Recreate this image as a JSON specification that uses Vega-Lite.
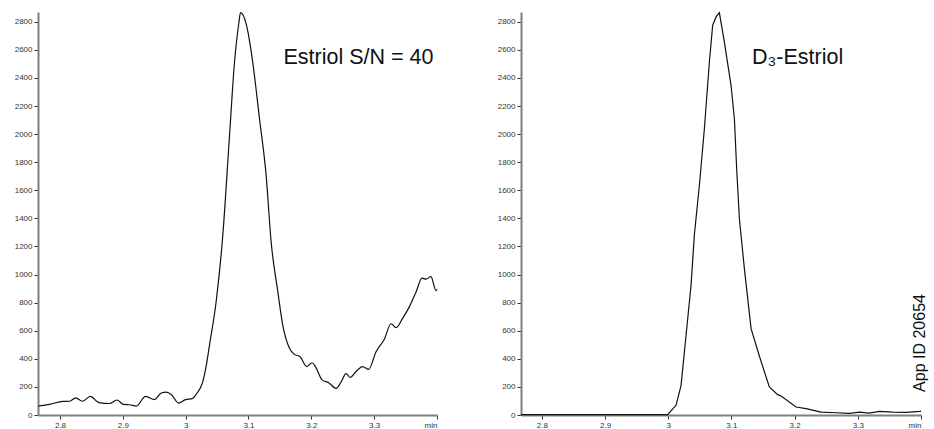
{
  "$schema": "https://vega.github.io/schema/vega-lite/v6.json",
  "background": "white",
  "padding": {"left": 14, "top": 10, "right": 0, "bottom": 0},
  "bounds": "flush",
  "spacing": 84,
  "config": {
    "view": {"stroke": null},
    "font": "Liberation Sans",
    "axis": {
      "grid": false,
      "title": null,
      "domainColor": "#808080",
      "domainWidth": 2,
      "tickColor": "#333333",
      "tickSize": 4,
      "tickWidth": 1,
      "labelFont": "Liberation Sans",
      "labelFontSize": 8,
      "labelColor": "#333333",
      "labelPadding": 2,
      "labelOverlap": false
    }
  },
  "datasets": {
    "estriol": [
      {"t": 2.765, "v": 64}, {"t": 2.7836, "v": 76}, {"t": 2.8047, "v": 97}, {"t": 2.8154, "v": 98},
      {"t": 2.8249, "v": 122}, {"t": 2.8356, "v": 98}, {"t": 2.8483, "v": 132}, {"t": 2.862, "v": 88},
      {"t": 2.879, "v": 82}, {"t": 2.8906, "v": 107}, {"t": 2.9012, "v": 75}, {"t": 2.9108, "v": 73},
      {"t": 2.9214, "v": 63}, {"t": 2.9362, "v": 133}, {"t": 2.9505, "v": 110}, {"t": 2.9612, "v": 157},
      {"t": 2.9691, "v": 163}, {"t": 2.9771, "v": 146}, {"t": 2.9887, "v": 85}, {"t": 2.9998, "v": 110},
      {"t": 3.0105, "v": 117}, {"t": 3.0178, "v": 155}, {"t": 3.0264, "v": 225}, {"t": 3.0327, "v": 350},
      {"t": 3.038, "v": 500}, {"t": 3.0486, "v": 810}, {"t": 3.0591, "v": 1280}, {"t": 3.0698, "v": 1990},
      {"t": 3.0777, "v": 2510}, {"t": 3.0846, "v": 2790}, {"t": 3.0873, "v": 2865}, {"t": 3.0963, "v": 2785},
      {"t": 3.1068, "v": 2510}, {"t": 3.1175, "v": 2110}, {"t": 3.1281, "v": 1705}, {"t": 3.1361, "v": 1230},
      {"t": 3.1466, "v": 880}, {"t": 3.1545, "v": 640}, {"t": 3.1652, "v": 475}, {"t": 3.1731, "v": 432},
      {"t": 3.1822, "v": 415}, {"t": 3.1927, "v": 345}, {"t": 3.2012, "v": 372}, {"t": 3.2065, "v": 345},
      {"t": 3.2171, "v": 250}, {"t": 3.2276, "v": 230}, {"t": 3.2394, "v": 190}, {"t": 3.2474, "v": 235},
      {"t": 3.2553, "v": 295}, {"t": 3.2617, "v": 268}, {"t": 3.2712, "v": 310}, {"t": 3.2817, "v": 345},
      {"t": 3.2912, "v": 325}, {"t": 3.303, "v": 450}, {"t": 3.3162, "v": 540}, {"t": 3.3268, "v": 650},
      {"t": 3.3348, "v": 622}, {"t": 3.3453, "v": 688}, {"t": 3.3559, "v": 770}, {"t": 3.3666, "v": 875},
      {"t": 3.3761, "v": 975}, {"t": 3.3825, "v": 968}, {"t": 3.3904, "v": 985}, {"t": 3.3984, "v": 885},
      {"t": 3.4, "v": 895}
    ],
    "d3estriol": [
      {"t": 2.767, "v": 2}, {"t": 2.9, "v": 2}, {"t": 2.999, "v": 2}, {"t": 3.0124, "v": 69},
      {"t": 3.0203, "v": 211}, {"t": 3.0282, "v": 568}, {"t": 3.0361, "v": 924}, {"t": 3.0413, "v": 1280},
      {"t": 3.0493, "v": 1636}, {"t": 3.0572, "v": 2039}, {"t": 3.0651, "v": 2514}, {"t": 3.0703, "v": 2775},
      {"t": 3.0757, "v": 2835}, {"t": 3.0809, "v": 2865}, {"t": 3.0888, "v": 2657}, {"t": 3.0994, "v": 2348},
      {"t": 3.1047, "v": 2110}, {"t": 3.1083, "v": 1754}, {"t": 3.1126, "v": 1398}, {"t": 3.1205, "v": 1042},
      {"t": 3.1311, "v": 615}, {"t": 3.1442, "v": 420}, {"t": 3.16, "v": 200}, {"t": 3.1732, "v": 145},
      {"t": 3.1786, "v": 135}, {"t": 3.2023, "v": 57}, {"t": 3.2182, "v": 45}, {"t": 3.2419, "v": 21},
      {"t": 3.2657, "v": 16}, {"t": 3.2867, "v": 12}, {"t": 3.3025, "v": 21}, {"t": 3.3184, "v": 14},
      {"t": 3.3342, "v": 26}, {"t": 3.3553, "v": 21}, {"t": 3.3765, "v": 19}, {"t": 3.3976, "v": 26},
      {"t": 3.4, "v": 28}
    ],
    "estriolLabel": [{"t": 3.1556, "v": 2498, "label": "Estriol S/N = 40"}],
    "d3Label": [{"t": 3.1327, "v": 2498, "label": "D₃-Estriol"}],
    "appId": [{"t": 3.4065, "v": 513, "label": "App ID 20654"}]
  },
  "hconcat": [
    {
      "width": 399,
      "height": 403,
      "encoding": {
        "x": {
          "field": "t", "type": "quantitative",
          "scale": {"domain": [2.765, 3.4], "nice": false, "zero": false},
          "axis": {"values": [2.8, 2.9, 3, 3.1, 3.2, 3.3, 3.4], "labelFlush": true, "labelOverlap": false,
                   "labelExpr": "datum.value > 3.35 ? 'min' : format(datum.value, '.2~f')"}
        },
        "y": {
          "field": "v", "type": "quantitative",
          "scale": {"domain": [0, 2870], "nice": false},
          "axis": {"values": [0, 200, 400, 600, 800, 1000, 1200, 1400, 1600, 1800, 2000, 2200, 2400, 2600, 2800],
                   "format": "d", "labelOverlap": false}
        }
      },
      "layer": [
        {
          "data": {"name": "estriol"},
          "mark": {"type": "line", "color": "#111111", "strokeWidth": 1.2, "interpolate": "monotone"}
        },
        {
          "data": {"name": "estriolLabel"},
          "mark": {"type": "text", "align": "left", "baseline": "alphabetic", "fontSize": 21.5, "color": "#111111"},
          "encoding": {"text": {"field": "label"}}
        }
      ]
    },
    {
      "width": 400,
      "height": 403,
      "encoding": {
        "x": {
          "field": "t", "type": "quantitative",
          "scale": {"domain": [2.767, 3.4], "nice": false, "zero": false},
          "axis": {"values": [2.8, 2.9, 3, 3.1, 3.2, 3.3, 3.4], "labelFlush": true, "labelOverlap": false,
                   "labelExpr": "datum.value > 3.35 ? 'min' : format(datum.value, '.2~f')"}
        },
        "y": {
          "field": "v", "type": "quantitative",
          "scale": {"domain": [0, 2870], "nice": false},
          "axis": {"values": [0, 200, 400, 600, 800, 1000, 1200, 1400, 1600, 1800, 2000, 2200, 2400, 2600, 2800],
                   "format": "d", "labelOverlap": false}
        }
      },
      "layer": [
        {
          "data": {"name": "d3estriol"},
          "mark": {"type": "line", "color": "#111111", "strokeWidth": 1.2}
        },
        {
          "data": {"name": "d3Label"},
          "mark": {"type": "text", "align": "left", "baseline": "alphabetic", "fontSize": 21.5, "color": "#111111"},
          "encoding": {"text": {"field": "label"}}
        },
        {
          "data": {"name": "appId"},
          "mark": {"type": "text", "align": "center", "baseline": "alphabetic", "angle": 270, "fontSize": 16, "color": "#111111"},
          "encoding": {"text": {"field": "label"}}
        }
      ]
    }
  ]
}
